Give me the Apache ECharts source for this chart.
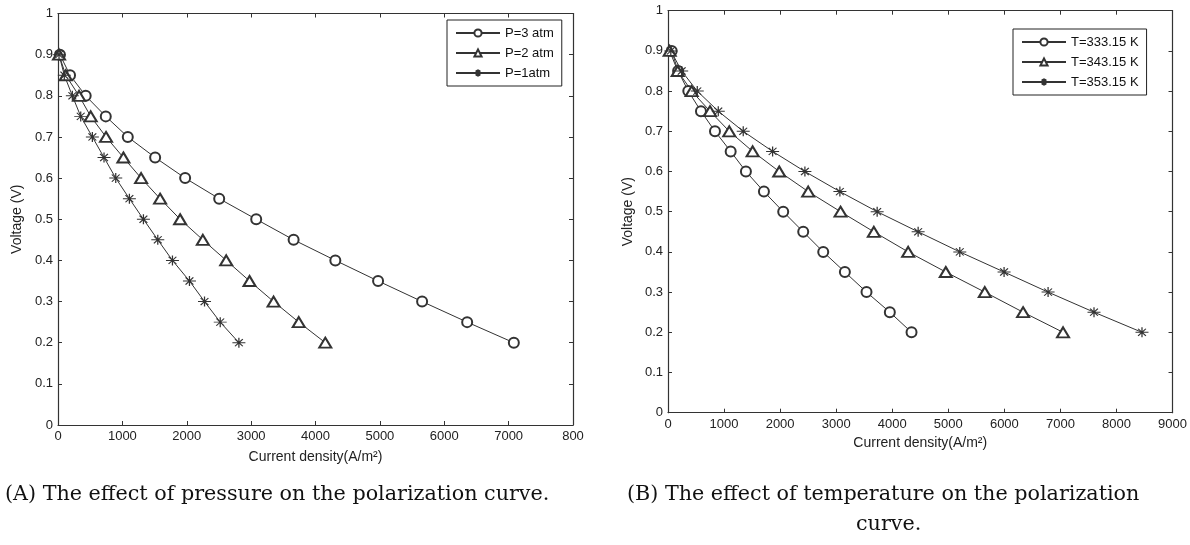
<!DOCTYPE html>
<html>
<head>
<meta charset="utf-8">
<script src="https://cdn.jsdelivr.net/npm/echarts@6/dist/echarts.min.js"></script>
<style>
html,body{margin:0;padding:0;background:#fff;}
#chart{width:1190px;height:545px;}
</style>
</head>
<body>
<div id="chart"></div>
<script>
// ---- Data ----
const voltages = [0.9,0.85,0.8,0.75,0.7,0.65,0.6,0.55,0.5,0.45,0.4,0.35,0.3,0.25,0.2];

// Panel A: effect of pressure (current density, A/m^2)
const p3atm = [30,187,430,742,1084,1509,1975,2504,3079,3660,4308,4972,5656,6356,7081];
const p2atm = [16,120,327,508,746,1016,1291,1586,1897,2250,2613,2975,3349,3740,4152];
const p1atm = [16,98,223,353,534,715,897,1109,1327,1550,1778,2042,2276,2520,2810];

// Panel B: effect of temperature (current density, A/m^2)
const t333 = [66,180,362,588,838,1118,1390,1711,2055,2412,2769,3155,3541,3957,4344];
const t343 = [30,173,422,749,1093,1510,1984,2501,3078,3672,4284,4955,5651,6334,7047];
const t353 = [50,244,522,897,1342,1866,2442,3066,3731,4462,5205,5995,6780,7599,8455];

const seriesNamesA = ['P=3 atm','P=2 atm','P=1atm'];
const seriesNamesB = ['T=333.15 K','T=343.15 K','T=353.15 K'];

const xTickLabelsA = ['0','1000','2000','3000','4000','5000','6000','7000','800'];
const xTickLabelsB = ['0','1000','2000','3000','4000','5000','6000','7000','8000','9000'];
const yTickLabels = ['0','0.1','0.2','0.3','0.4','0.5','0.6','0.7','0.8','0.9','1'];

const captionA = '(A) The effect of pressure on the polarization curve.';
const captionB1 = '(B) The effect of temperature on the polarization';
const captionB2 = 'curve.';

// ---- Styling ----
const INK = '#333';
const FONT = 'Liberation Sans, Arial, sans-serif';
const SERIF = '20.7px "DejaVu Serif", "Liberation Serif", serif';
const starPath = 'path://M0,-5L0,5M-6,0L6,0M-3.6,-3.6L3.6,3.6M-3.6,3.6L3.6,-3.6';

function pairs(xs){ return xs.map((x,i)=>[x, voltages[i]]); }

const grids = [
  {left:58, top:13.5, width:515, height:411.5},
  {left:668, top:10.7, width:505, height:402}
];

function xAxes(gi, max, labels){
  const base = {
    type:'value', gridIndex:gi, min:0, max:max, interval:1000,
    splitLine:{show:false},
    axisLine:{show:true, onZero:false, lineStyle:{color:INK, width:1.2}},
    axisTick:{show:true, inside:true, length:4, lineStyle:{color:INK}},
  };
  return [
    Object.assign({}, base, {
      position:'bottom',
      axisLabel:{color:'#222', fontFamily:FONT, fontSize:13, margin:5,
        formatter:(v)=>labels[Math.round(v/1000)]},
      name:'Current density(A/m²)', nameLocation:'middle', nameGap: gi===0?25:23,
      nameTextStyle:{color:'#222', fontFamily:FONT, fontSize:14}
    }),
    Object.assign({}, base, {position:'top', axisLabel:{show:false}})
  ];
}
function yAxes(gi){
  const base = {
    type:'value', gridIndex:gi, min:0, max:1, interval:0.1,
    splitLine:{show:false},
    axisLine:{show:true, onZero:false, lineStyle:{color:INK, width:1.2}},
    axisTick:{show:true, inside:true, length:4, lineStyle:{color:INK}},
  };
  return [
    Object.assign({}, base, {
      position:'left',
      axisLabel:{color:'#222', fontFamily:FONT, fontSize:13, margin:5,
        formatter:(v)=>yTickLabels[Math.round(v*10)]},
      name:'Voltage (V)', nameLocation:'middle', nameGap: gi===0?34:33,
      nameTextStyle:{color:'#222', fontFamily:FONT, fontSize:14}
    }),
    Object.assign({}, base, {position:'right', axisLabel:{show:false}})
  ];
}

function mk(name, xs, gi, kind){
  const s = {
    name:name, type:'line', data:pairs(xs),
    xAxisIndex: gi*2, yAxisIndex: gi*2,
    lineStyle:{color:INK, width:1},
    itemStyle:{color:INK, borderColor:INK, borderWidth:1},
    symbolKeepAspect:false,
    animation:false
  };
  if(kind==='circle'){ s.symbol='emptyCircle'; s.symbolSize=10; }
  else if(kind==='triangle'){ s.symbol='emptyTriangle'; s.symbolSize=[12,10]; s.itemStyle.borderWidth=0.9; }
  else { s.symbol=starPath; s.symbolSize=[13,10]; s.itemStyle.borderWidth=1.1; }
  return s;
}

const legendBase = {
  orient:'vertical', itemWidth:44, itemHeight:9, itemGap:6,
  borderColor:'#222', borderWidth:1, padding:[6,8,6,8],
  textStyle:{color:'#111', fontFamily:FONT, fontSize:13, lineHeight:14},
  backgroundColor:'#fff'
};

const option = {
  animation:false,
  backgroundColor:'#fff',
  grid: grids,
  xAxis: [...xAxes(0, 8000, xTickLabelsA), ...xAxes(1, 9000, xTickLabelsB)],
  yAxis: [...yAxes(0), ...yAxes(1)],
  legend: [
    Object.assign({}, legendBase, {data:seriesNamesA, left:447, top:20}),
    Object.assign({}, legendBase, {data:seriesNamesB, left:1013, top:29})
  ],
  series: [
    mk(seriesNamesA[0], p3atm, 0, 'circle'),
    mk(seriesNamesA[1], p2atm, 0, 'triangle'),
    mk(seriesNamesA[2], p1atm, 0, 'star'),
    mk(seriesNamesB[0], t333, 1, 'circle'),
    mk(seriesNamesB[1], t343, 1, 'triangle'),
    mk(seriesNamesB[2], t353, 1, 'star')
  ],
  graphic: [
    {type:'text', left:5, top:484, style:{text:captionA, fill:'#111', font:SERIF}},
    {type:'text', left:627, top:484, style:{text:captionB1, fill:'#111', font:SERIF}},
    {type:'text', left:856, top:514, style:{text:captionB2, fill:'#111', font:SERIF}}
  ]
};

const chart = echarts.init(document.getElementById('chart'), null, {renderer:'canvas'});
chart.setOption(option);
</script>
</body>
</html>
